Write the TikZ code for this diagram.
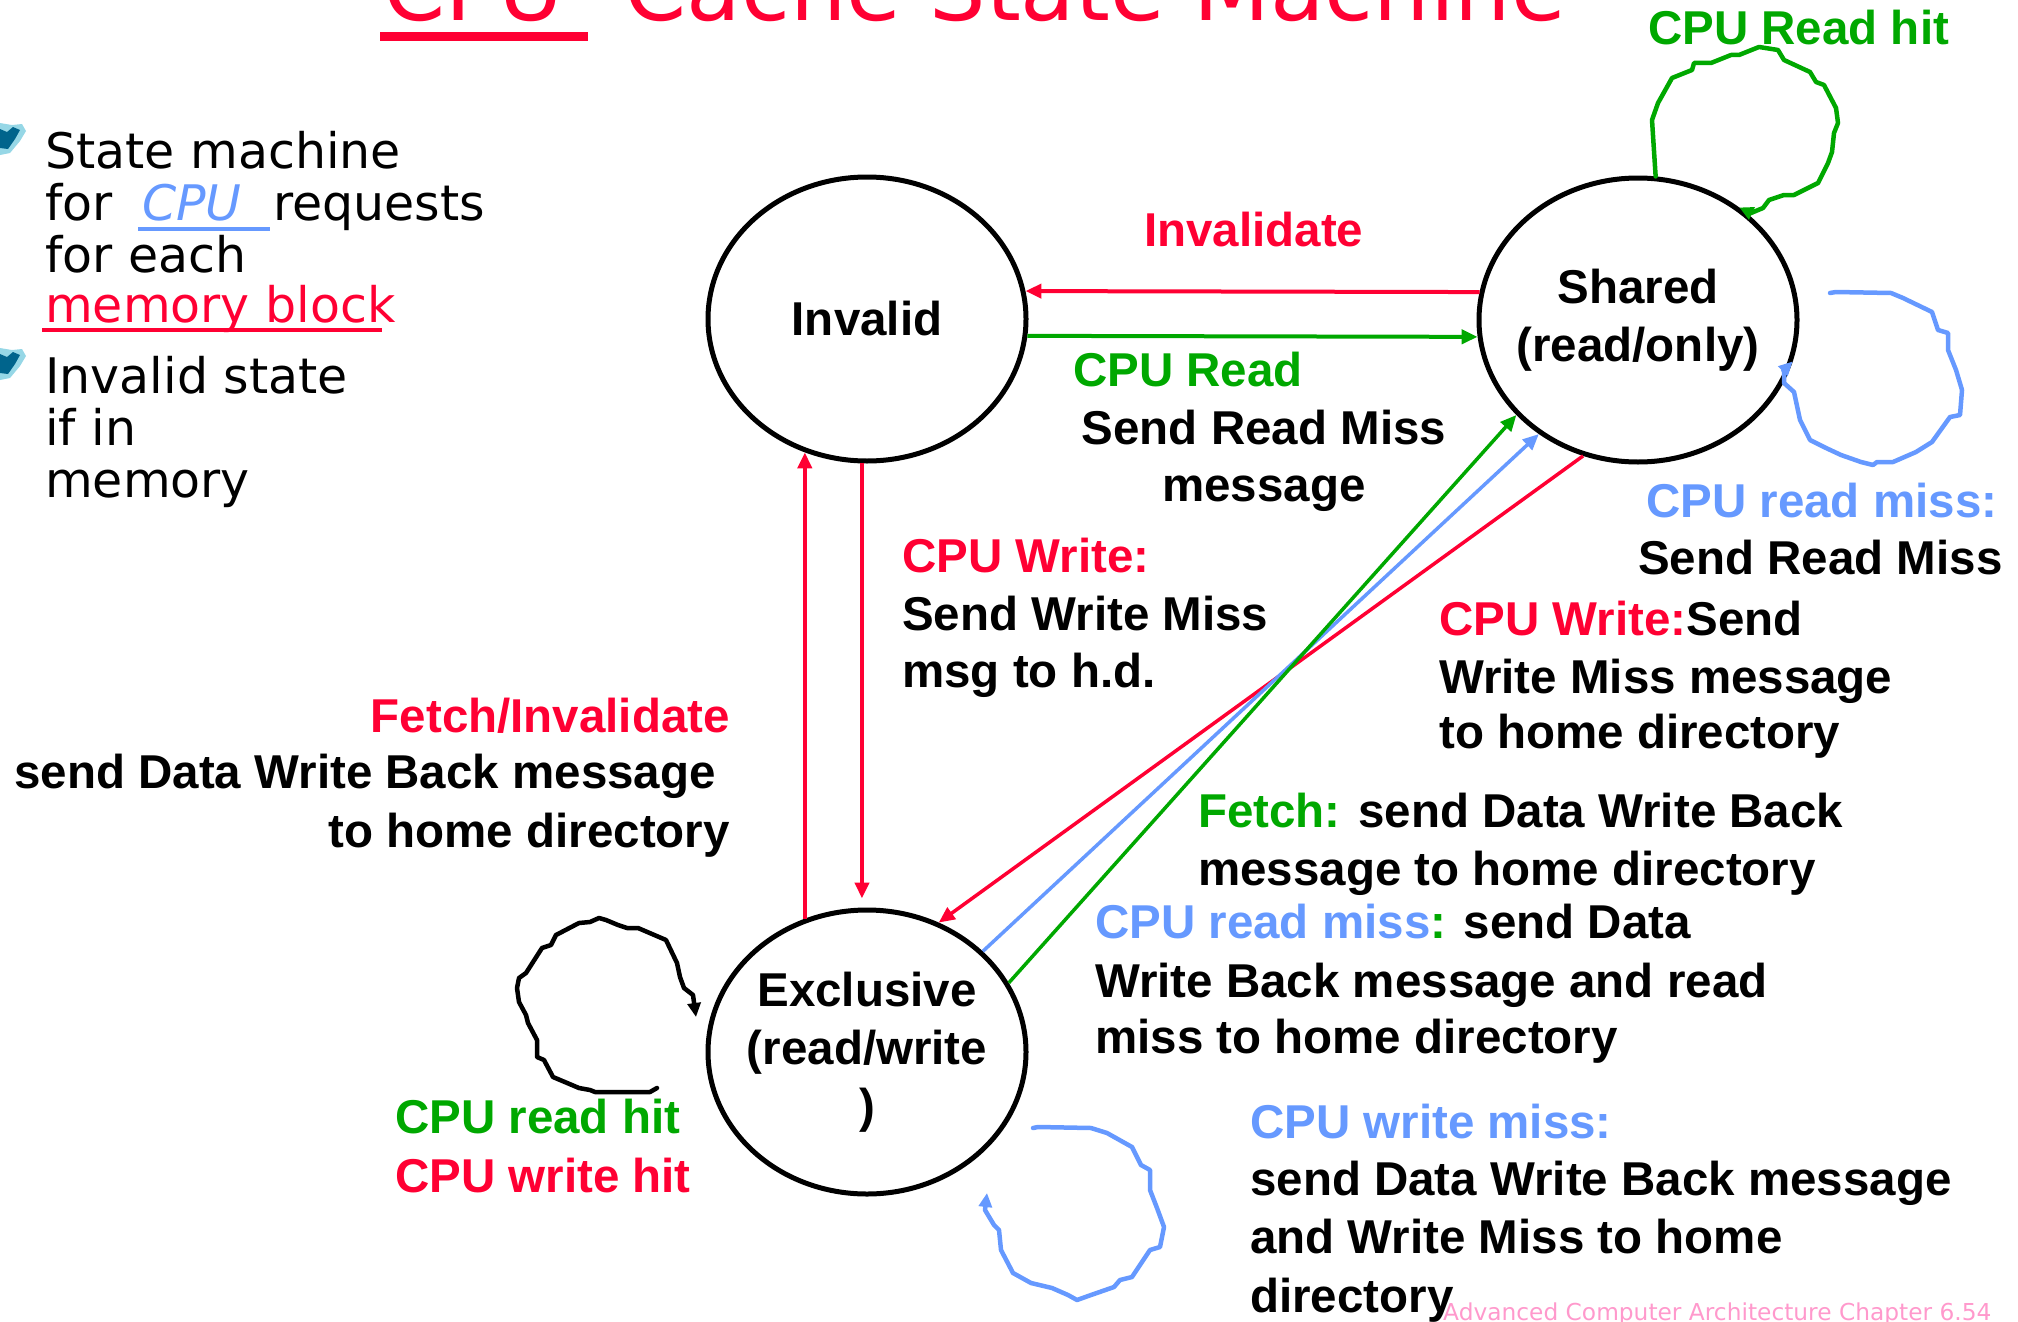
\documentclass[tikz,border=0pt]{standalone}
\usepackage{fontspec}
\newfontfamily\lblfont{Liberation Sans}
\newfontfamily\handfont{DejaVu Sans}
\usetikzlibrary{arrows.meta,calc,shapes.geometric}
\definecolor{cred}{RGB}{255,0,51}
\definecolor{cgreen}{RGB}{0,168,0}
\definecolor{cblue}{RGB}{102,153,255}
\definecolor{cpink}{RGB}{255,153,204}
\definecolor{cteal}{RGB}{0,100,140}
\definecolor{chalo}{RGB}{150,215,230}

\begin{document}
\begin{tikzpicture}[x=1pt,y=-1pt,
  state/.style={ellipse, draw, line width=5pt, minimum width=318pt, minimum height=284pt,
    inner sep=0pt},
  statetext/.style={inner sep=0pt, align=center, font=\lblfont\bfseries\fontsize{47.5}{58}\selectfont},
  lbl/.style={inner sep=0pt, font=\lblfont\bfseries\fontsize{47.5}{58}\selectfont},
  hand/.style={inner sep=0pt, anchor=base west, font=\handfont\fontsize{49}{52}\selectfont},
  tip/.style={-{Triangle[length=16pt,width=14pt]}},
  looptip/.style={-{Triangle[length=14pt,width=13pt]}},
  edge/.style={tip, line width=4pt},
  diag/.style={tip, line width=3.5pt},
  loop/.style={looptip, line width=4.5pt, line join=round, line cap=round},
  bulletmark/.pic={
    \fill[chalo] (0,-4) -- (12,-2) -- (22,-3) -- (26,4) -- (20,14) -- (10,26) -- (0,28) -- cycle;
    \fill[cteal] (0,2) -- (7,5) -- (13,0) -- (20,3) -- (15,12) -- (8,22) -- (0,21) -- cycle;
  },
]
\useasboundingbox (0,0) rectangle (2018,1322);
\clip (0,0) rectangle (2018,1322);

% title, mostly above the page edge
\node[inner sep=0pt, anchor=base west, text=cred, font=\handfont\fontsize{89}{100}\selectfont]
  (title) at (383,21) {CPU -Cache State Machine};
\fill[cred] (380,32) rectangle (588,41);

% bullet points
\pic at (0,127) {bulletmark};
\pic at (0,352) {bulletmark};
\node[hand] (b1) at (45,168) {State machine};
\node[hand] (b2a) at (45,220) {for};
\node[hand, text=cblue, font=\handfont\itshape\fontsize{49}{52}\selectfont] (b2b) at (142,220) {CPU};
\node[hand] (b2c) at (273,220) {requests};
\draw[cblue, line width=4pt] (138,229) -- (270,229);
\node[hand] (b3) at (45,272) {for each};
\node[hand, text=cred] (b4) at (45,322) {memory block};
\draw[cred, line width=4pt] (42,330) -- (382,330);
\node[hand] (b5) at (45,393) {Invalid state};
\node[hand] (b6) at (45,445) {if in};
\node[hand] (b7) at (45,497) {memory};

% states
\node[state] (inv) at (867,319) {};
\node[state] (shr) at (1638,320) {};
\node[state] (exc) at (867,1052) {};
\node[statetext] (invtext) at (inv.center) {Invalid};
\node[statetext] (shrtext) at (shr.center) {Shared\\(read/only)};
\node[statetext] (exctext) at (exc.center) {Exclusive\\(read/write\\)};

% transitions between Invalid and Shared
\draw[edge, cred] (shr.170) -- (inv.10);
\draw[edge, cgreen] (inv.-6) -- (shr.186);

% transitions between Invalid and Exclusive
\draw[edge, cred] (exc.115) -- (exc.115 |- inv.245);
\draw[edge, cred] (inv.268) -- ($(inv.268 |- exc.north)+(0,-9)$);

% transitions between Shared and Exclusive
\draw[diag, cred] (shr.248) -- (exc.61);
\draw[diag, cblue] (exc.41) -- (shr.229);
\draw[diag, cgreen] (exc.26) -- (shr.218);

% self loops
\draw[loop, cgreen] (shr.83) -- (1652,120) -- (1658,103) -- (1672,78) -- (1692,70) -- (1694,63)
  -- (1711,63) -- (1731,55) -- (1739,55) -- (1759,47) -- (1778,50) -- (1784,60) -- (1810,72)
  -- (1816,82) -- (1824,85) -- (1836,108) -- (1838,123) -- (1834,133) -- (1832,152)
  -- (1828,163) -- (1818,183) -- (1794,195) -- (1784,195) -- (1769,200) -- (1763,208)
  -- (1751,213) -- (shr.48);
\coordinate (shrloop) at (1830,293);
\draw[loop, cblue] (shrloop) -- (1836,292) -- (1891,293) -- (1903,298) -- (1932,312) -- (1938,330)
  -- (1948,333) -- (1948,350) -- (1956,370) -- (1962,390) -- (1960,415) -- (1950,417)
  -- (1932,442) -- (1916,452) -- (1893,462) -- (1877,462) -- (1873,465) -- (1861,462)
  -- (1841,455) -- (1826,448) -- (1810,440) -- (1800,420) -- (1794,392) -- (1784,383)
  -- (1784,370) -- (shr.-15);
\coordinate (excloopa) at (657,1088);
\coordinate (excloopb) at (696,1017);
\draw[loop, black] (excloopa) -- (650,1092) -- (595,1092) -- (590,1090) -- (579,1088) -- (553,1077)
  -- (544,1060) -- (537,1057) -- (537,1040) -- (528,1023) -- (526,1015) -- (519,1002)
  -- (517,988) -- (519,978) -- (526,973) -- (542,948) -- (551,945) -- (556,935) -- (579,923)
  -- (590,922) -- (599,918) -- (606,920) -- (618,925) -- (627,928) -- (638,928) -- (666,940)
  -- (677,963) -- (680,977) -- (684,988) -- (693,995) -- (excloopb);
\coordinate (excloopc) at (1033,1128);
\coordinate (excloopd) at (987,1193);
\draw[loop, cblue] (excloopc) -- (1038,1127) -- (1091,1128) -- (1107,1133) -- (1132,1147)
  -- (1141,1165) -- (1150,1170) -- (1150,1190) -- (1157,1208) -- (1164,1227) -- (1160,1247)
  -- (1150,1250) -- (1132,1277) -- (1120,1280) -- (1114,1287) -- (1091,1295) -- (1077,1300)
  -- (1068,1295) -- (1052,1288) -- (1031,1283) -- (1013,1273) -- (1001,1250) -- (999,1230)
  -- (994,1225) -- (985,1210) -- (excloopd);

% transition labels
\node[lbl, anchor=base west, text=cred] (l1) at (1144,246) {Invalidate};
\node[lbl, anchor=base west, text=cgreen] (l2) at (1073,386) {CPU Read};
\node[lbl, anchor=base] (l3) at (1264,444) {Send Read Miss};
\node[lbl, anchor=base] (l4) at (1264,501) {message};

\node[lbl, anchor=base west, text=cred] (l5) at (902,572) {CPU Write:};
\node[lbl, anchor=base west] (l6) at (902,630) {Send Write Miss};
\node[lbl, anchor=base west] (l7) at (902,687) {msg to h.d.};

\node[lbl, anchor=base east, text=cred] (l8) at (730,732) {Fetch/Invalidate};
\node[lbl, anchor=base east] (l9) at (716,788) {send Data Write Back message};
\node[lbl, anchor=base east] (l10) at (730,847) {to home directory};

\node[lbl, anchor=base west, text=cblue] (l11) at (1646,517) {CPU read miss:};
\node[lbl, anchor=base west] (l12) at (1638,574) {Send Read Miss};

\node[lbl, anchor=base west] (l13) at (1439,635) {\textcolor{cred}{CPU Write:}Send};
\node[lbl, anchor=base west] (l14) at (1439,693) {Write Miss message};
\node[lbl, anchor=base west] (l15) at (1439,748) {to home directory};

\node[lbl, anchor=base west] (l16) at (1198,827) {\textcolor{cgreen}{Fetch:} send Data Write Back};
\node[lbl, anchor=base west] (l17) at (1198,885) {message to home directory};

\node[lbl, anchor=base west] (l18) at (1095,938) {\textcolor{cblue}{CPU read miss}\textcolor{cgreen}{:} send Data};
\node[lbl, anchor=base west] (l19) at (1095,997) {Write Back message and read};
\node[lbl, anchor=base west] (l20) at (1095,1053) {miss to home directory};

\node[lbl, anchor=base west, text=cgreen] (l21) at (395,1133) {CPU read hit};
\node[lbl, anchor=base west, text=cred] (l22) at (395,1192) {CPU write hit};

\node[lbl, anchor=base west, text=cblue] (l23) at (1250,1138) {CPU write miss:};
\node[lbl, anchor=base west] (l24) at (1250,1195) {send Data Write Back message};
\node[lbl, anchor=base west] (l25) at (1250,1253) {and Write Miss to home};
\node[lbl, anchor=base west] (l26) at (1250,1312) {directory};

\node[lbl, anchor=base west, text=cgreen] (l27) at (1648,45) {CPU Read hit};

% footer
\node[inner sep=0pt, anchor=base west, text=cpink, font=\handfont\fontsize{23.3}{25}\selectfont]
  (foot) at (1443,1320) {Advanced Computer Architecture Chapter 6.54};
\end{tikzpicture}
\end{document}
